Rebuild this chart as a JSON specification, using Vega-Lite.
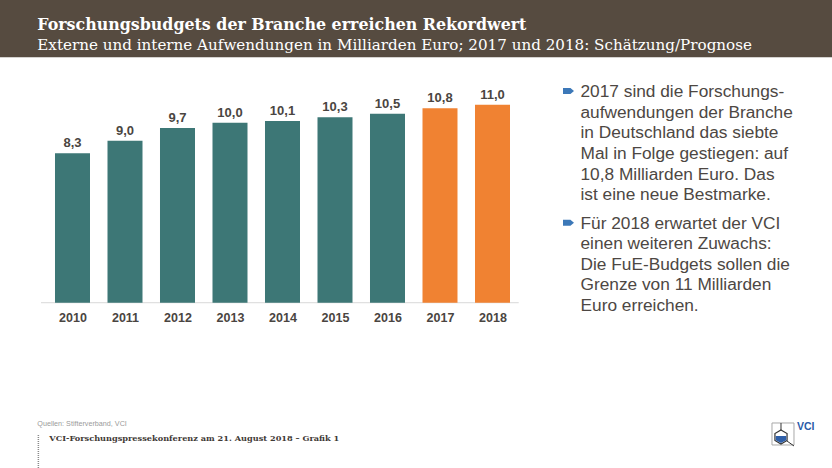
{
  "$schema": "https://vega.github.io/schema/vega-lite/v6.json",
  "width": 832,
  "height": 468,
  "autosize": {"type": "none"},
  "padding": 0,
  "background": "#ffffff",
  "config": {
    "view": {"stroke": null},
    "locale": {"number": {"decimal": ",", "thousands": ".", "grouping": [3], "currency": ["", " €"]}},
    "font": "Liberation Sans"
  },
  "data": {"values": [
    {"Jahr": 2010, "Wert": 8.3, "Status": "Ist"},
    {"Jahr": 2011, "Wert": 9.0, "Status": "Ist"},
    {"Jahr": 2012, "Wert": 9.7, "Status": "Ist"},
    {"Jahr": 2013, "Wert": 10.0, "Status": "Ist"},
    {"Jahr": 2014, "Wert": 10.1, "Status": "Ist"},
    {"Jahr": 2015, "Wert": 10.3, "Status": "Ist"},
    {"Jahr": 2016, "Wert": 10.5, "Status": "Ist"},
    {"Jahr": 2017, "Wert": 10.8, "Status": "Schätzung"},
    {"Jahr": 2018, "Wert": 11.0, "Status": "Prognose"}
  ]},
  "layer": [
    {
      "data": {"values": [{"a": 1}]},
      "mark": {"type": "rect", "color": "#564b40"},
      "encoding": {
        "x": {"datum": 2008.61905, "type": "quantitative", "scale": {"domain": [2008.61905, 2024.46667], "nice": false, "zero": false, "padding": 0}, "axis": {"values": [2010, 2011, 2012, 2013, 2014, 2015, 2016, 2017, 2018], "format": "d", "title": null, "domain": false, "ticks": false, "grid": false, "labelFontWeight": "bold", "labelFontSize": 12.5, "labelColor": "#4a4541", "labelPadding": 9, "labelOverlap": false, "labelFlush": false, "offset": -165.3}},
        "x2": {"datum": 2024.46667},
        "y": {"datum": 16.817, "type": "quantitative", "scale": {"domain": [-9.183, 16.817], "nice": false, "zero": false, "padding": 0}, "axis": null},
        "y2": {"datum": 13.633}
      }
    },
    {
      "data": {"values": [{"a": 1}]},
      "mark": {"type": "text", "align": "left", "baseline": "alphabetic", "font": "DejaVu Serif", "fontWeight": "bold", "fontSize": 15.85, "color": "#ffffff"},
      "encoding": {
        "x": {"datum": 2009.3295, "type": "quantitative"},
        "y": {"datum": 15.15, "type": "quantitative"},
        "text": {"value": "Forschungsbudgets der Branche erreichen Rekordwert"}
      }
    },
    {
      "data": {"values": [{"a": 1}]},
      "mark": {"type": "text", "align": "left", "baseline": "alphabetic", "font": "DejaVu Serif", "fontSize": 15.15, "color": "#ffffff"},
      "encoding": {
        "x": {"datum": 2009.3295, "type": "quantitative"},
        "y": {"datum": 14.039, "type": "quantitative"},
        "text": {"value": "Externe und interne Aufwendungen in Milliarden Euro; 2017 und 2018: Schätzung/Prognose"}
      }
    },
    {
      "data": {"values": [{"a": 1}]},
      "mark": {"type": "rule", "color": "#d9d9d9", "strokeWidth": 1},
      "encoding": {
        "x": {"datum": 2009.4, "type": "quantitative"},
        "x2": {"datum": 2018.5},
        "y": {"datum": 0, "type": "quantitative"}
      }
    },
    {
      "mark": {"type": "bar", "width": 35},
      "encoding": {
        "x": {"field": "Jahr", "type": "quantitative"},
        "y": {"field": "Wert", "type": "quantitative"},
        "y2": {"datum": 0},
        "color": {"field": "Status", "type": "nominal", "scale": {"domain": ["Ist", "Schätzung", "Prognose"], "range": ["#3d7776", "#f08232", "#f08232"]}, "legend": null}
      }
    },
    {
      "mark": {"type": "text", "baseline": "alphabetic", "dy": -6, "fontWeight": "bold", "fontSize": 13, "color": "#4a4541"},
      "encoding": {
        "x": {"field": "Jahr", "type": "quantitative"},
        "y": {"field": "Wert", "type": "quantitative"},
        "text": {"field": "Wert", "type": "quantitative", "format": ".1f"}
      }
    },
    {
      "data": {"values": [{"a": 1}]},
      "mark": {"type": "point", "shape": "M-1,-0.55L0.35,-0.55L1,0L0.35,0.55L-1,0.55Z", "size": 121, "filled": true, "opacity": 1, "color": "#3c78b8"},
      "encoding": {
        "x": {"datum": 2019.4476, "type": "quantitative"},
        "y": {"datum": 11.761, "type": "quantitative"}
      }
    },
    {
      "data": {"values": [{"a": 1}]},
      "mark": {"type": "point", "shape": "M-1,-0.55L0.35,-0.55L1,0L0.35,0.55L-1,0.55Z", "size": 121, "filled": true, "opacity": 1, "color": "#3c78b8"},
      "encoding": {
        "x": {"datum": 2019.4476, "type": "quantitative"},
        "y": {"datum": 4.444, "type": "quantitative"}
      }
    },
    {
      "data": {"values": [{"a": 1}]},
      "mark": {"type": "text", "align": "left", "baseline": "alphabetic", "fontSize": 17.3, "lineHeight": 20.6, "color": "#4d4743"},
      "encoding": {
        "x": {"datum": 2019.6762, "type": "quantitative"},
        "y": {"datum": 11.411, "type": "quantitative"},
        "text": {"value": ["2017 sind die Forschungs-", "aufwendungen der Branche", "in Deutschland das siebte", "Mal in Folge gestiegen: auf", "10,8 Milliarden Euro. Das", "ist eine neue Bestmarke."]}
      }
    },
    {
      "data": {"values": [{"a": 1}]},
      "mark": {"type": "text", "align": "left", "baseline": "alphabetic", "fontSize": 17.3, "lineHeight": 20.6, "color": "#4d4743"},
      "encoding": {
        "x": {"datum": 2019.6762, "type": "quantitative"},
        "y": {"datum": 4.117, "type": "quantitative"},
        "text": {"value": ["Für 2018 erwartet der VCI", "einen weiteren Zuwachs:", "Die FuE-Budgets sollen die", "Grenze von 11 Milliarden", "Euro erreichen."]}
      }
    },
    {
      "data": {"values": [{"a": 1}]},
      "mark": {"type": "text", "align": "left", "baseline": "middle", "fontSize": 7.2, "color": "#9a9a9a"},
      "encoding": {
        "x": {"datum": 2009.33, "type": "quantitative"},
        "y": {"datum": -6.739, "type": "quantitative"},
        "text": {"value": "Quellen: Stifterverband, VCI"}
      }
    },
    {
      "data": {"values": [{"a": 1}]},
      "mark": {"type": "text", "align": "left", "baseline": "middle", "font": "DejaVu Serif", "fontWeight": "bold", "fontSize": 8.2, "color": "#3f3a36"},
      "encoding": {
        "x": {"datum": 2009.5581, "type": "quantitative"},
        "y": {"datum": -7.572, "type": "quantitative"},
        "text": {"value": "VCI-Forschungspressekonferenz am 21. August 2018 – Grafik 1"}
      }
    },
    {
      "data": {"values": [{"a": 1}]},
      "mark": {"type": "rule", "color": "#8a8a8a", "strokeWidth": 1.5, "strokeDash": [1, 1]},
      "encoding": {
        "x": {"datum": 2009.35, "type": "quantitative"},
        "y": {"datum": -7.35, "type": "quantitative"},
        "y2": {"datum": -9.183}
      }
    },
    {
      "data": {"values": [{"a": 1}]},
      "mark": {"type": "point", "shape": "square", "size": 484, "filled": false, "stroke": "#a8a8a8", "strokeWidth": 1, "opacity": 1},
      "encoding": {
        "x": {"datum": 2023.5333, "type": "quantitative"},
        "y": {"datum": -7.294, "type": "quantitative"}
      }
    },
    {
      "data": {"values": [{"a": 1}]},
      "mark": {"type": "rule", "color": "#333333", "strokeWidth": 1},
      "encoding": {
        "x": {"datum": 2023.4952, "type": "quantitative"},
        "y": {"datum": -6.683, "type": "quantitative"},
        "y2": {"datum": -7.072}
      }
    },
    {
      "data": {"values": [{"a": 1}]},
      "mark": {"type": "rule", "color": "#333333", "strokeWidth": 1},
      "encoding": {
        "x": {"datum": 2023.6095, "type": "quantitative"},
        "x2": {"datum": 2023.7429},
        "y": {"datum": -7.683, "type": "quantitative"},
        "y2": {"datum": -7.961}
      }
    },
    {
      "data": {"values": [{"a": 1}]},
      "mark": {"type": "point", "shape": "M0,-1L0.866,-0.5L0.866,0.5L0,1L-0.866,0.5L-0.866,-0.5Z", "size": 196, "filled": true, "fill": "#ffffff", "stroke": "#333333", "strokeWidth": 1.2, "opacity": 1},
      "encoding": {
        "x": {"datum": 2023.4952, "type": "quantitative"},
        "y": {"datum": -7.461, "type": "quantitative"}
      }
    },
    {
      "data": {"values": [{"a": 1}]},
      "mark": {"type": "point", "shape": "M-0.75,-0.15L0.75,-0.15L0.75,0.45L0,0.87L-0.75,0.45Z", "size": 196, "filled": true, "fill": "#2f5fa8", "strokeWidth": 0, "opacity": 1},
      "encoding": {
        "x": {"datum": 2023.4952, "type": "quantitative"},
        "y": {"datum": -7.461, "type": "quantitative"}
      }
    },
    {
      "data": {"values": [{"a": 1}]},
      "mark": {"type": "text", "align": "left", "baseline": "middle", "font": "Liberation Sans", "fontWeight": "bold", "fontSize": 10.5, "color": "#2a5aa8"},
      "encoding": {
        "x": {"datum": 2023.80, "type": "quantitative"},
        "y": {"datum": -6.906, "type": "quantitative"},
        "text": {"value": "VCI"}
      }
    }
  ]
}
